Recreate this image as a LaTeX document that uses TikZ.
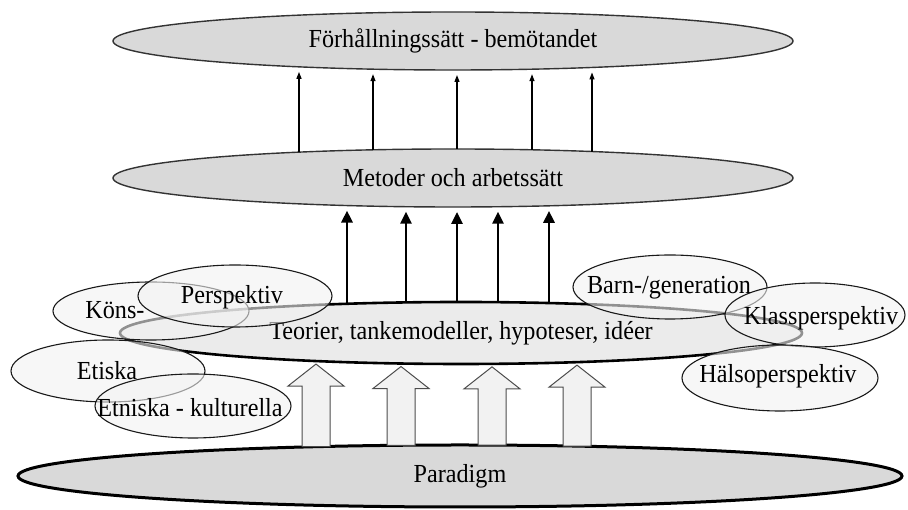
\documentclass[tikz,border=0pt]{standalone}
\usepackage{fontspec}
\setmainfont{Liberation Serif}[FakeStretch=0.93]
\usetikzlibrary{calc,arrows.meta,shapes.geometric}
\begin{document}
\begin{tikzpicture}[x=1pt,y=1pt,
  txt/.style={font=\fontsize{26}{30}\selectfont, text=black},
  bigell/.style={ellipse, draw=black!80, line width=1.4pt, fill=gray!30, inner sep=0pt, outer sep=0pt, txt},
  teoell/.style={ellipse, draw=black, line width=2.6pt, fill=gray!16, inner sep=0pt, outer sep=0pt, txt},
  parell/.style={ellipse, draw=black, line width=3pt, fill=gray!30, inner sep=0pt, outer sep=0pt, txt},
  smell/.style={ellipse, draw=black!90, line width=1.1pt, fill=gray!10, fill opacity=0.6, inner sep=0pt, outer sep=0pt},
  lbl/.style={txt, inner sep=0pt},
  thinarr/.style={line width=1.2pt, -{Triangle[length=7pt,width=5pt]}},
  thickarr/.style={line width=2.8pt, -{Triangle[length=12pt,width=11pt]}},
  hollow/.style={draw=black!70, line width=1pt, fill=gray!10}
]
\useasboundingbox (0,0) rectangle (908,510);

% main ellipses
\node[bigell, minimum width=680pt, minimum height=58pt] (top) at (453,469) {Förhållningssätt - bemötandet};
\node[bigell, minimum width=680pt, minimum height=58pt] (mid) at (453,332) {Metoder och arbetssätt};
\node[teoell, minimum width=682pt, minimum height=62pt] (teo) at (461,177) {Teorier, tankemodeller, hypoteser, idéer};
\node[parell, minimum width=884pt, minimum height=62pt] (par) at (460,34) {Paradigm};

% thin arrows: Metoder -> Förhållningssätt
\foreach \dx in {-154,-80,4,79,139}{
  \draw[thinarr] ($(mid.center)+(\dx,{29*sqrt(1-(\dx/340)^2)})$) -- ($(top.center)+(\dx,{-29*sqrt(1-(\dx/340)^2)-5})$);
}

% thick arrows: Teorier -> Metoder
\foreach \dx in {-106,-47,4,45,96}{
  \pgfmathsetmacro\tdx{\dx-8}
  \draw[thickarr] ($(teo.center)+(\tdx,{31*sqrt(1-(\tdx/341)^2)})$) -- ($(mid.center)+(\dx,{-29*sqrt(1-(\dx/340)^2)-5})$);
}

% hollow block arrows: Paradigm -> Teorier
\foreach \x in {316,401,492,577}{
  \pgfmathsetmacro\pdx{\x-460}
  \pgfmathsetmacro\tdx{\x-461}
  \coordinate (hb) at ($(par.center)+(\pdx,{31*sqrt(1-(\pdx/442)^2)})$);
  \coordinate (ht) at ($(teo.center)+(\tdx,{-31*sqrt(1-(\tdx/341)^2)-3})$);
  \draw[hollow] ($(hb)+(-14,0)$) -- ($(ht)+(-14,-22)$) -- ($(ht)+(-28,-22)$) -- (ht)
    -- ($(ht)+(28,-22)$) -- ($(ht)+(14,-22)$) -- ($(hb)+(14,0)$) -- cycle;
}

% perspective ellipses
\node[smell, minimum width=196pt, minimum height=58pt] (kons) at (151,199) {};
\node[smell, minimum width=194pt, minimum height=62pt] (persp) at (235,214) {};
\node[smell, minimum width=194pt, minimum height=62pt] (etiska) at (108,139) {};
\node[smell, minimum width=196pt, minimum height=64pt] (etnisk) at (193,104) {};
\node[smell, minimum width=194pt, minimum height=64pt] (barn) at (670,223) {};
\node[smell, minimum width=180pt, minimum height=64pt] (klass) at (815,195) {};
\node[smell, minimum width=196pt, minimum height=66pt] (halso) at (780,132) {};

% labels
\node[lbl] (konsT) at (115,200) {Köns-};
\node[lbl] (perspT) at (232,213) {Perspektiv};
\node[lbl] (etiskaT) at (107,139) {Etiska};
\node[lbl] (etniskT) at (190,102) {Etniska - kulturella};
\node[lbl] (barnT) at (669,222) {Barn-/generation};
\node[lbl] (klassT) at (821,192) {Klassperspektiv};
\node[lbl] (halsoT) at (778,134) {Hälsoperspektiv};
\end{tikzpicture}
\end{document}
